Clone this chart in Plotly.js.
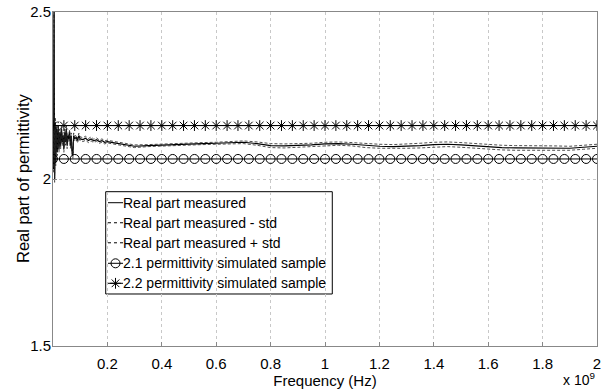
<!DOCTYPE html>
<html>
<head>
<meta charset="utf-8">
<script src="https://cdn.plot.ly/plotly-3.0.1.min.js"></script>
<style>html,body{margin:0;padding:0;background:#fff;}#chart{width:602px;height:392px;}</style>
</head>
<body>
<div id="chart"></div>
<script>
// Frequency in units of 1e9 Hz
const measFreq = [0.002,0.004,0.006,0.008,0.010,0.013,0.016,0.019,0.022,0.025,
  0.028,0.031,0.034,0.037,0.040,0.043,0.046,0.049,0.052,0.055,
  0.058,0.061,0.064,0.067,0.070,0.073,0.076,0.080,0.085,0.090,
  0.095,0.10,0.11,0.12,0.13,0.14,0.15,0.16,0.17,0.18,
  0.19,0.20,0.22,0.24,0.26,0.28,0.30,
  0.35,0.40,0.45,0.50,0.55,0.60,0.65,0.70,0.75,0.80,0.85,0.90,0.95,1.00,1.05,1.10,1.15,1.20,1.25,1.30,1.35,1.40,1.45,1.50,1.55,1.60,1.65,1.70,1.75,1.80,1.85,1.90,1.95,2.00];
const measured = [2.03,2.50,2.00,2.17,2.05,2.15,2.08,2.16,2.09,2.14,
  2.10,2.15,2.11,2.13,2.09,2.14,2.11,2.15,2.10,2.13,
  2.12,2.14,2.10,2.13,2.08,2.07,2.13,2.12,2.125,2.115,
  2.13,2.12,2.118,2.122,2.115,2.12,2.114,2.118,2.112,2.115,
  2.11,2.112,2.109,2.106,2.103,2.099,2.098,
  2.10,2.102,2.103,2.104,2.106,2.107,2.108,2.11,2.106,2.10,2.099,2.10,2.102,2.105,2.106,2.104,2.10,2.098,2.097,2.098,2.10,2.103,2.104,2.102,2.099,2.096,2.094,2.093,2.093,2.094,2.093,2.092,2.095,2.098];
const stdDev = [0.01,0.005,0.01,0.015,0.01,0.012,0.01,0.012,0.01,0.01,
  0.01,0.01,0.01,0.01,0.01,0.01,0.009,0.009,0.009,0.009,
  0.008,0.008,0.008,0.008,0.008,0.008,0.008,0.007,0.007,0.007,
  0.007,0.006,0.006,0.006,0.006,0.006,0.005,0.005,0.005,0.005,
  0.005,0.004,0.004,0.004,0.004,0.004,0.004,
  0.003,0.003,0.003,0.003,0.003,0.003,0.004,0.004,0.005,0.006,0.006,0.005,0.005,0.005,0.005,0.005,0.006,0.006,0.006,0.006,0.007,0.007,0.007,0.007,0.007,0.007,0.007,0.007,0.007,0.007,0.006,0.006,0.006,0.006];
const simFreq = [0,0.04,0.08,0.12,0.16,0.20,0.24,0.28,0.32,0.36,0.40,0.44,0.48,0.52,0.56,0.60,0.64,0.68,0.72,0.76,0.80,0.84,0.88,0.92,0.96,1.00,1.04,1.08,1.12,1.16,1.20,1.24,1.28,1.32,1.36,1.40,1.44,1.48,1.52,1.56,1.60,1.64,1.68,1.72,1.76,1.80,1.84,1.88,1.92,1.96,2.00];
const sim21Value = 2.06;
const sim22Value = 2.16;
const xTicks = [0.2,0.4,0.6,0.8,1,1.2,1.4,1.6,1.8,2];
const xTickText = ['0.2','0.4','0.6','0.8','1','1.2','1.4','1.6','1.8','2'];
const yTicks = [1.5,2,2.5];
const yTickText = ['1.5','2','2.5'];
const names = ['Real part measured','Real part measured - std','Real part measured + std','2.1 permittivity simulated sample','2.2 permittivity simulated sample'];

const minusStd = measured.map((v, i) => v - stdDev[i]);
const plusStd = measured.map((v, i) => v + stdDev[i]);
const sim21 = simFreq.map(() => sim21Value);
const sim22 = simFreq.map(() => sim22Value);

const font = "'Liberation Sans', Arial, sans-serif";
const dashStyle = '3px,2px';
const traces = [
  {x: measFreq, y: measured, name: names[0], mode: 'lines', line: {color: '#000', width: 1.2}},
  {x: measFreq, y: minusStd, name: names[1], mode: 'lines', line: {color: '#222', width: 0.8, dash: dashStyle}},
  {x: measFreq, y: plusStd, name: names[2], mode: 'lines', line: {color: '#222', width: 0.8, dash: dashStyle}},
  {x: simFreq, y: sim21, name: names[3], mode: 'lines+markers', line: {color: '#000', width: 1},
   marker: {symbol: 'circle-open', size: 9, color: '#000', line: {width: 1}}},
  {x: simFreq, y: sim22, name: names[4], mode: 'lines+markers', line: {color: '#000', width: 1},
   marker: {symbol: 'asterisk-open', size: 9, color: '#000', line: {width: 1, color: '#000'}}}
];

// Custom legend (MATLAB-style compact legend), positioned in paper coordinates
const legBox = {x0: 0.0969, x1: 0.5134, y0: 0.1557, y1: 0.462};
const legRows = [0.429, 0.369, 0.309, 0.2476, 0.1877];
const legSampleX = [0.1011, 0.1287];
const legTextX = 0.125;
const legDash = ['solid', 'dot', 'dot', 'solid', 'solid'];
const legMarker = [null, null, null, 'circle-open', 'asterisk-open'];

const shapes = [
  {type: 'rect', xref: 'paper', yref: 'paper', x0: legBox.x0, x1: legBox.x1, y0: legBox.y0, y1: legBox.y1,
   fillcolor: '#fff', line: {color: '#000', width: 1}, layer: 'between'}
];
const annotations = [];
names.forEach((n, i) => {
  shapes.push({type: 'line', xref: 'paper', yref: 'paper', x0: legSampleX[0], x1: legSampleX[1], y0: legRows[i], y1: legRows[i],
    line: {color: '#000', width: 1, dash: legDash[i]}, layer: 'above'});
  annotations.push({text: n, xref: 'paper', yref: 'paper', x: legTextX, y: legRows[i], xanchor: 'left', yanchor: 'middle',
    showarrow: false, font: {size: 14, family: font, color: '#000'}});
  if (legMarker[i]) {
    traces.push({x: [(legSampleX[0] + legSampleX[1]) / 2], y: [legRows[i]], xaxis: 'x2', yaxis: 'y2', mode: 'markers',
      showlegend: false, marker: {symbol: legMarker[i], size: 9, color: '#000', line: {width: 1, color: '#000'}}});
  }
});
annotations.push({text: 'x 10<sup>9</sup>', xref: 'paper', yref: 'paper', x: 1, y: 0, xanchor: 'right', yanchor: 'bottom',
  yshift: -44, showarrow: false, font: {size: 14, family: font}});
annotations.push({text: 'Real part of permittivity', xref: 'paper', yref: 'paper', x: 0, y: 0.5, xanchor: 'center', yanchor: 'middle',
  xshift: -30, textangle: -90, showarrow: false, font: {size: 16.5, family: font}});

const layout = {
  width: 602, height: 392,
  margin: {l: 53, r: 5, t: 12, b: 46},
  paper_bgcolor: '#fff', plot_bgcolor: '#fff',
  font: {family: font, size: 15, color: '#000'},
  showlegend: false,
  xaxis: {
    range: [0, 2], tickvals: xTicks, ticktext: xTickText,
    showgrid: true, gridcolor: '#c8c8c8', griddash: 'dot', gridwidth: 1,
    showline: true, linecolor: '#888', mirror: true, linewidth: 1,
    ticks: 'inside', ticklen: 4, tickcolor: '#888', ticklabelstandoff: 4,
    zeroline: false, tickfont: {size: 15, family: font},
    title: {text: 'Frequency (Hz)', font: {size: 15, family: font}, standoff: 0}
  },
  yaxis: {
    range: [1.5, 2.5], tickvals: yTicks, ticktext: yTickText,
    showgrid: true, gridcolor: '#c8c8c8', griddash: 'dot', gridwidth: 1,
    showline: true, linecolor: '#888', mirror: true, linewidth: 1,
    ticks: 'inside', ticklen: 4, tickcolor: '#888', ticklabelstandoff: -2,
    zeroline: false, tickfont: {size: 15, family: font}
  },
  xaxis2: {overlaying: 'x', range: [0, 1], visible: false, anchor: 'y2', fixedrange: true},
  yaxis2: {overlaying: 'y', range: [0, 1], visible: false, anchor: 'x2', fixedrange: true},
  shapes: shapes,
  annotations: annotations
};

Plotly.newPlot('chart', traces, layout, {displayModeBar: false, staticPlot: true});
</script>
</body>
</html>
